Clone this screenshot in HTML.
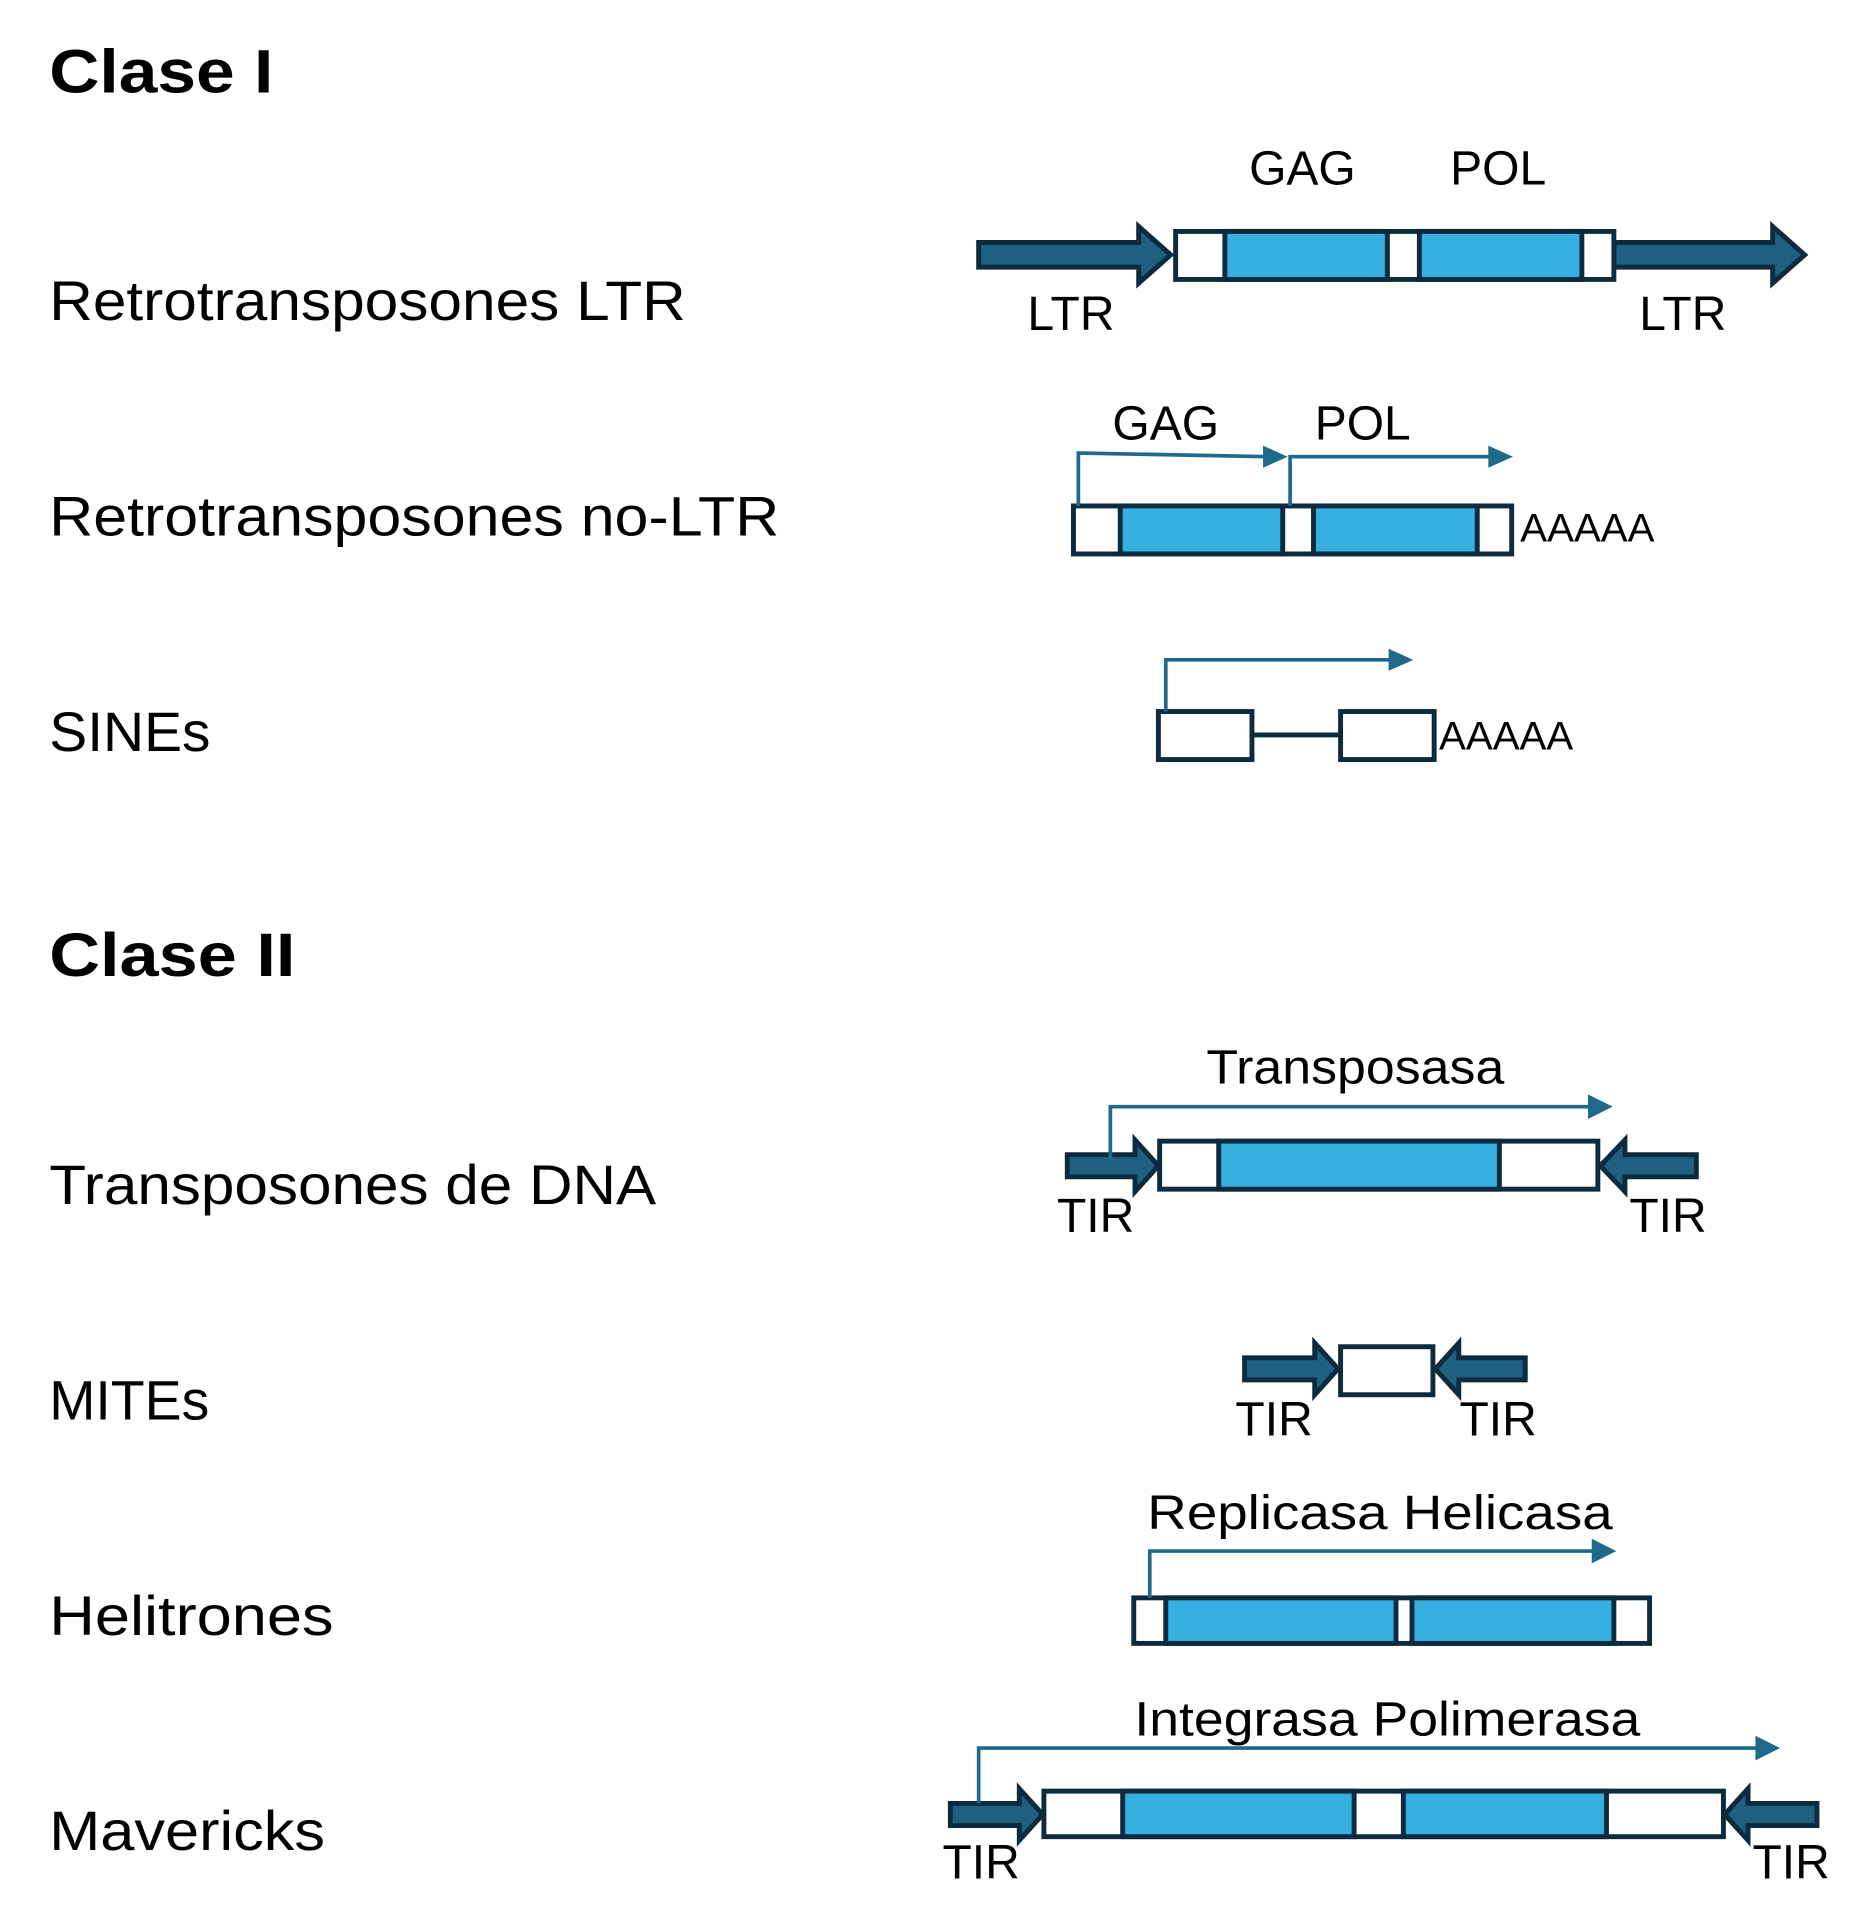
<!DOCTYPE html>
<html><head><meta charset="utf-8"><style>
html,body{margin:0;padding:0;background:#fff;}
svg{display:block;}
text{font-family:"Liberation Sans",sans-serif;fill:#000;}
</style></head><body>
<svg width="1865" height="1929" viewBox="0 0 1515 1567" xmlns="http://www.w3.org/2000/svg">
<g font-size="45">
<text x="40" y="75" font-weight="bold" font-size="50" textLength="182" lengthAdjust="spacingAndGlyphs">Clase I</text>
<text x="40" y="260" textLength="517" lengthAdjust="spacingAndGlyphs">Retrotransposones LTR</text>
<text x="40" y="435" textLength="593" lengthAdjust="spacingAndGlyphs">Retrotransposones no-LTR</text>
<text x="40" y="610" textLength="131" lengthAdjust="spacingAndGlyphs">SINEs</text>
<text x="40" y="793" font-weight="bold" font-size="50" textLength="200" lengthAdjust="spacingAndGlyphs">Clase II</text>
<text x="40" y="978" textLength="493" lengthAdjust="spacingAndGlyphs">Transposones de DNA</text>
<text x="40" y="1153" textLength="130" lengthAdjust="spacingAndGlyphs">MITEs</text>
<text x="40" y="1328" textLength="231" lengthAdjust="spacingAndGlyphs">Helitrones</text>
<text x="40" y="1503" textLength="224" lengthAdjust="spacingAndGlyphs">Mavericks</text>
</g>

<g stroke="#0d2b3e" stroke-width="4" fill="#1f6080" stroke-linejoin="miter">
<polygon points="795,197 925,197 925,184 951,207 925,230 925,217 795,217"/>
<polygon points="1311,197 1440,197 1440,184 1466,207 1440,230 1440,217 1311,217"/>
<polygon points="867,938 922,938 922,926 941,947 922,968 922,956 867,956"/>
<polygon points="1378,938 1320,938 1320,926 1300,947 1320,968 1320,956 1378,956"/>
<polygon points="1011,1103 1068,1103 1068,1091 1087,1112 1068,1133 1068,1121 1011,1121"/>
<polygon points="1239,1103 1185,1103 1185,1091 1166,1112 1185,1133 1185,1121 1239,1121"/>
<polygon points="772,1465 828,1465 828,1453 847,1474 828,1495 828,1483 772,1483"/>
<polygon points="1476,1465 1420,1465 1420,1453 1401,1474 1420,1495 1420,1483 1476,1483"/>
</g>

<g stroke="#0d2b3e" stroke-width="4">
<rect x="955" y="188" width="356" height="39" fill="#fff"/>
<rect x="995" y="188" width="132" height="39" fill="#35b0e0"/>
<rect x="1153" y="188" width="132" height="39" fill="#35b0e0"/>
<rect x="872" y="411" width="356" height="39" fill="#fff"/>
<rect x="910" y="411" width="132" height="39" fill="#35b0e0"/>
<rect x="1067" y="411" width="133" height="39" fill="#35b0e0"/>
<rect x="941" y="578" width="76" height="39" fill="#fff"/>
<rect x="1089" y="578" width="76" height="39" fill="#fff"/>
<line x1="1017" y1="597" x2="1089" y2="597"/>
<rect x="942" y="927" width="356" height="39" fill="#fff"/>
<rect x="990" y="927" width="228" height="39" fill="#35b0e0"/>
<rect x="1089" y="1094" width="75" height="39" fill="#fff"/>
<rect x="921" y="1298" width="419" height="37" fill="#fff"/>
<rect x="947" y="1298" width="187" height="37" fill="#35b0e0"/>
<rect x="1147" y="1298" width="164" height="37" fill="#35b0e0"/>
<rect x="848" y="1455" width="552" height="37" fill="#fff"/>
<rect x="912" y="1455" width="188" height="37" fill="#35b0e0"/>
<rect x="1140" y="1455" width="165" height="37" fill="#35b0e0"/>
</g>

<g stroke="#1f6a8a" stroke-width="3" fill="none">
<polyline points="876,411 876,368 1030,371"/>
<polyline points="1048,411 1048,371 1213,371"/>
<polyline points="947,578 947,536 1133,536"/>
<polyline points="902,942 902,899 1295,899"/>
<polyline points="934,1298 934,1260 1298,1260"/>
<polyline points="795,1465 795,1420 1432,1420"/>
</g>
<g fill="#1f6a8a">
<polygon points="1026,362 1046,371 1026,380"/>
<polygon points="1209,362 1229,371 1209,380"/>
<polygon points="1128,527 1148,536 1128,545"/>
<polygon points="1290,889 1310,899 1290,909"/>
<polygon points="1293,1250 1313,1260 1293,1270"/>
<polygon points="1426,1410 1446,1420 1426,1430"/>
</g>

<g font-size="39" text-anchor="middle">
<text x="1058" y="150">GAG</text>
<text x="1217" y="150">POL</text>
<text x="870" y="268">LTR</text>
<text x="1367" y="268">LTR</text>
<text x="947" y="357">GAG</text>
<text x="1107" y="357">POL</text>
<text x="1101" y="880" textLength="242" lengthAdjust="spacingAndGlyphs">Transposasa</text>
<text x="890" y="1001">TIR</text>
<text x="1355" y="1001">TIR</text>
<text x="1035" y="1166">TIR</text>
<text x="1217" y="1166">TIR</text>
<text x="1121" y="1242" textLength="378" lengthAdjust="spacingAndGlyphs">Replicasa  Helicasa</text>
<text x="1127" y="1410" textLength="411" lengthAdjust="spacingAndGlyphs">Integrasa  Polimerasa</text>
<text x="797" y="1526">TIR</text>
<text x="1455" y="1526">TIR</text>
</g>
<g font-size="32">
<text x="1235" y="440" textLength="109" lengthAdjust="spacingAndGlyphs">AAAAA</text>
<text x="1169" y="609" textLength="109" lengthAdjust="spacingAndGlyphs">AAAAA</text>
</g>
</svg>
</body></html>
